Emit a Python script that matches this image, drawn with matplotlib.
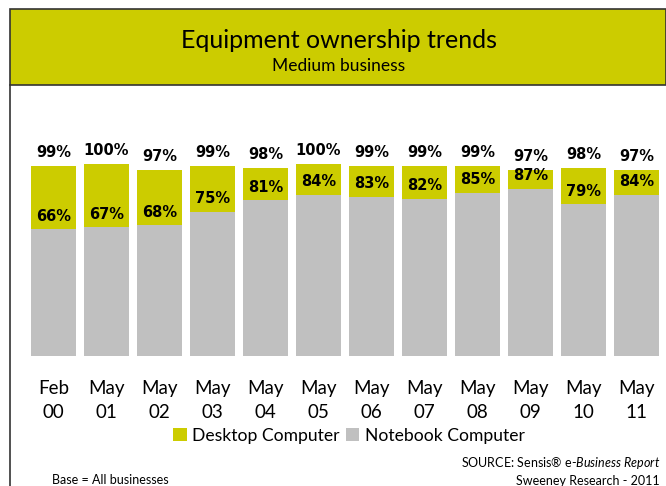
import matplotlib
matplotlib.use("Agg")
import matplotlib.pyplot as plt
from matplotlib.patches import Rectangle, Patch
from matplotlib.lines import Line2D

months = ["Feb\n00", "May\n01", "May\n02", "May\n03", "May\n04", "May\n05",
          "May\n06", "May\n07", "May\n08", "May\n09", "May\n10", "May\n11"]
any_computer = [99, 100, 97, 99, 98, 100, 99, 99, 99, 97, 98, 97]
notebook = [66, 67, 68, 75, 81, 84, 83, 82, 85, 87, 79, 84]

YELLOW = "#cccc00"
GREY = "#c0c0c0"
NARROW = ["Lato", "DejaVu Sans"]

plt.rcParams["mathtext.fontset"] = "custom"
plt.rcParams["mathtext.rm"] = "Lato"
plt.rcParams["mathtext.it"] = "Lato:italic"

W, H = 666, 486
fig = plt.figure(figsize=(W / 100, H / 100), dpi=100)

# header band
fig.patches.append(Rectangle((10 / W, 1 - 85 / H), 1 - 10 / W, 76 / H,
                             transform=fig.transFigure, facecolor=YELLOW,
                             edgecolor="#333333", linewidth=1.2))
fig.lines.append(Line2D([10 / W, 10 / W], [0, 1 - 85 / H], transform=fig.transFigure,
                        color="#333333", linewidth=1.2))
fig.text(339 / W, 1 - 40 / H, "Equipment ownership trends", ha="center", va="center",
         fontsize=18, family=NARROW)
fig.text(339 / W, 1 - 66 / H, "Medium business", ha="center", va="center",
         fontsize=12.5, family=NARROW)

# bars: 53 px pitch, first centre at 53.5 px
ax = fig.add_axes([0, 1 - 356 / H, 1, 192 / H])
ax.set_xlim(-53.5 / 53, (W - 53.5) / 53)
ax.set_ylim(0, 100)
x = list(range(len(months)))
ax.bar(x, notebook, width=0.85, color=GREY)
ax.bar(x, [t - n for t, n in zip(any_computer, notebook)], bottom=notebook,
       width=0.85, color=YELLOW)
for i in x:
    ax.text(i, any_computer[i] + 3, f"{any_computer[i]}%", ha="center", va="bottom",
            fontsize=10.5, fontweight="bold", clip_on=False)
    ax.text(i, notebook[i] + 3, f"{notebook[i]}%", ha="center", va="bottom",
            fontsize=10.5, fontweight="bold")
ax.axis("off")

for i in x:
    fig.text((53.5 + 53 * i) / W, 1 - 400 / H, months[i], ha="center", va="center",
             fontsize=13.5, family=NARROW, linespacing=1.5)

handles = [Patch(facecolor=YELLOW, label="Desktop Computer"),
           Patch(facecolor=GREY, label="Notebook Computer")]
fig.legend(handles=handles, loc="center", bbox_to_anchor=(349 / W, 1 - 436 / H), ncol=2,
           frameon=False, prop={"family": NARROW, "size": 12.6},
           handlelength=0.75, handleheight=0.75, handletextpad=0.3, columnspacing=0.4)

fig.text(660 / W, 1 - 463 / H, "SOURCE: Sensis® e-$\\mathit{Business\\ Report}$", ha="right",
         va="center", fontsize=9, family=NARROW)
fig.text(660 / W, 1 - 481 / H, "Sweeney Research - 2011", ha="right", va="center",
         fontsize=9, family=NARROW)
fig.text(52 / W, 1 - 480 / H, "Base = All businesses", ha="left", va="center",
         fontsize=9, family=NARROW)

fig.savefig("out.png", dpi=100)
